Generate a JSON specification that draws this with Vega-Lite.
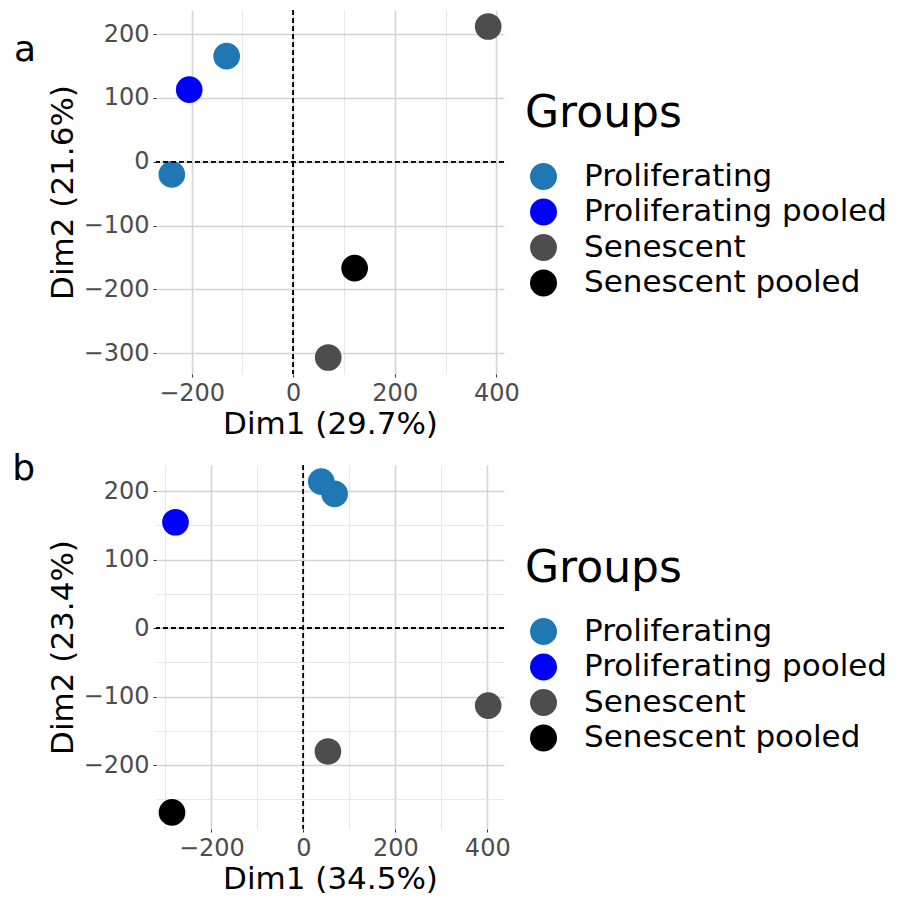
{
  "$schema": "https://vega.github.io/schema/vega-lite/v6.json",
  "background": "white",
  "padding": {"left": 12, "top": 9, "right": 0, "bottom": 0},
  "datasets": {
    "a": [
      {"Dim1": -239, "Dim2": -19.8, "Group": "Proliferating"},
      {"Dim1": -131, "Dim2": 165.6, "Group": "Proliferating"},
      {"Dim1": -204.7, "Dim2": 113, "Group": "Proliferating pooled"},
      {"Dim1": 384, "Dim2": 212, "Group": "Senescent"},
      {"Dim1": 69, "Dim2": -306.7, "Group": "Senescent"},
      {"Dim1": 121, "Dim2": -166.7, "Group": "Senescent pooled"}
    ],
    "b": [
      {"Dim1": 39, "Dim2": 214, "Group": "Proliferating"},
      {"Dim1": 68, "Dim2": 196, "Group": "Proliferating"},
      {"Dim1": -278, "Dim2": 154.6, "Group": "Proliferating pooled"},
      {"Dim1": 402, "Dim2": -113, "Group": "Senescent"},
      {"Dim1": 53.5, "Dim2": -180, "Group": "Senescent"},
      {"Dim1": -285.6, "Dim2": -269, "Group": "Senescent pooled"}
    ]
  },
  "spacing": 12,
  "vconcat": [
    {
      "width": 348,
      "height": 364,
      "title": {"text": "a", "orient": "left", "anchor": "end", "angle": 0, "baseline": "top", "align": "right", "fontSize": 36, "fontWeight": "normal", "font": "DejaVu Sans", "offset": -11, "dy": 24},
      "data": {"name": "a"},
      "layer": [
        {
          "mark": {"type": "point", "filled": true, "opacity": 1, "size": 710, "shape": "circle"},
          "encoding": {
            "x": {
              "field": "Dim1", "type": "quantitative",
              "scale": {"domain": [-270.15, 415.15], "nice": false, "zero": false},
              "axis": {
                "title": "Dim1 (29.7%)",
                "values": [-200, -100, 0, 100, 200, 300, 400],
                "labelExpr": "datum.value % 200 === 0 ? datum.label : ''",
                "gridColor": {"condition": {"test": "datum.value % 200 === 0", "value": "#D3D3D3"}, "value": "#E8E8E8"},
                "gridWidth": {"condition": {"test": "datum.value % 200 === 0", "value": 1.6}, "value": 1.1},
                "tickOpacity": {"condition": {"test": "datum.value % 200 === 0", "value": 1}, "value": 0}
              }
            },
            "y": {
              "field": "Dim2", "type": "quantitative",
              "scale": {"domain": [-332.6, 237.9], "nice": false, "zero": false},
              "axis": {
                "title": "Dim2 (21.6%)",
                "values": [-300, -250, -200, -150, -100, -50, 0, 50, 100, 150, 200],
                "labelExpr": "datum.value % 100 === 0 ? datum.label : ''",
                "gridColor": {"condition": {"test": "datum.value % 100 === 0", "value": "#D3D3D3"}, "value": "#E8E8E8"},
                "gridWidth": {"condition": {"test": "datum.value % 100 === 0", "value": 1.6}, "value": 1.1},
                "tickOpacity": {"condition": {"test": "datum.value % 100 === 0", "value": 1}, "value": 0}
              }
            },
            "color": {
              "field": "Group", "type": "nominal",
              "scale": {"domain": ["Proliferating", "Proliferating pooled", "Senescent", "Senescent pooled"], "range": ["#1F78B4", "#0000FF", "#4D4D4D", "#000000"]},
              "legend": {"title": "Groups", "orient": "none", "legendX": 369, "legendY": 82}
            }
          }
        },
        {
          "mark": {"type": "rule", "strokeDash": [5, 3], "color": "black", "strokeWidth": 1.1},
          "encoding": {"y": {"datum": 0, "type": "quantitative"}}
        },
        {
          "mark": {"type": "rule", "strokeDash": [5, 3], "color": "black", "strokeWidth": 1.1},
          "encoding": {"x": {"datum": 0, "type": "quantitative"}}
        }
      ]
    },
    {
      "width": 348,
      "height": 364,
      "title": {"text": "b", "orient": "left", "anchor": "end", "angle": 0, "baseline": "top", "align": "right", "fontSize": 36, "fontWeight": "normal", "font": "DejaVu Sans", "offset": -11, "dy": -12},
      "data": {"name": "b"},
      "layer": [
        {
          "mark": {"type": "point", "filled": true, "opacity": 1, "size": 710, "shape": "circle"},
          "encoding": {
            "x": {
              "field": "Dim1", "type": "quantitative",
              "scale": {"domain": [-320.4, 436.4], "nice": false, "zero": false},
              "axis": {
                "title": "Dim1 (34.5%)",
                "values": [-300, -200, -100, 0, 100, 200, 300, 400],
                "labelExpr": "datum.value % 200 === 0 ? datum.label : ''",
                "gridColor": {"condition": {"test": "datum.value % 200 === 0", "value": "#D3D3D3"}, "value": "#E8E8E8"},
                "gridWidth": {"condition": {"test": "datum.value % 200 === 0", "value": 1.6}, "value": 1.1},
                "tickOpacity": {"condition": {"test": "datum.value % 200 === 0", "value": 1}, "value": 0}
              }
            },
            "y": {
              "field": "Dim2", "type": "quantitative",
              "scale": {"domain": [-293.2, 238.2], "nice": false, "zero": false},
              "axis": {
                "title": "Dim2 (23.4%)",
                "values": [-250, -200, -150, -100, -50, 0, 50, 100, 150, 200],
                "labelExpr": "datum.value % 100 === 0 ? datum.label : ''",
                "gridColor": {"condition": {"test": "datum.value % 100 === 0", "value": "#D3D3D3"}, "value": "#E8E8E8"},
                "gridWidth": {"condition": {"test": "datum.value % 100 === 0", "value": 1.6}, "value": 1.1},
                "tickOpacity": {"condition": {"test": "datum.value % 100 === 0", "value": 1}, "value": 0}
              }
            },
            "color": {
              "field": "Group", "type": "nominal",
              "scale": {"domain": ["Proliferating", "Proliferating pooled", "Senescent", "Senescent pooled"], "range": ["#1F78B4", "#0000FF", "#4D4D4D", "#000000"]},
              "legend": {"title": "Groups", "orient": "none", "legendX": 369, "legendY": 82}
            }
          }
        },
        {
          "mark": {"type": "rule", "strokeDash": [5, 3], "color": "black", "strokeWidth": 1.1},
          "encoding": {"y": {"datum": 0, "type": "quantitative"}}
        },
        {
          "mark": {"type": "rule", "strokeDash": [5, 3], "color": "black", "strokeWidth": 1.1},
          "encoding": {"x": {"datum": 0, "type": "quantitative"}}
        }
      ]
    }
  ],
  "resolve": {"scale": {"x": "independent", "y": "independent", "color": "independent"}, "legend": {"color": "independent"}, "axis": {"x": "independent", "y": "independent"}},
  "config": {
    "font": "DejaVu Sans",
    "view": {"stroke": null},
    "axis": {
      "domain": false,
      "labelFontSize": 24,
      "labelColor": "#4D4D4D",
      "labelPadding": 4,
      "titleFontSize": 31,
      "titleColor": "black",
      "titleFontWeight": "normal",
      "titlePadding": 4,
      "tickColor": "#333333",
      "tickSize": 3,
      "grid": true
    },
    "legend": {
      "titleFontSize": 44,
      "titleFontWeight": "normal",
      "titleColor": "black",
      "titlePadding": 25,
      "labelFontSize": 31,
      "labelColor": "black",
      "symbolType": "circle",
      "symbolSize": 729,
      "symbolStrokeWidth": 0,
      "symbolOffset": 3,
      "labelOffset": 25,
      "rowPadding": 3.5,
      "padding": 0,
      "labelLimit": 400
    }
  }
}
